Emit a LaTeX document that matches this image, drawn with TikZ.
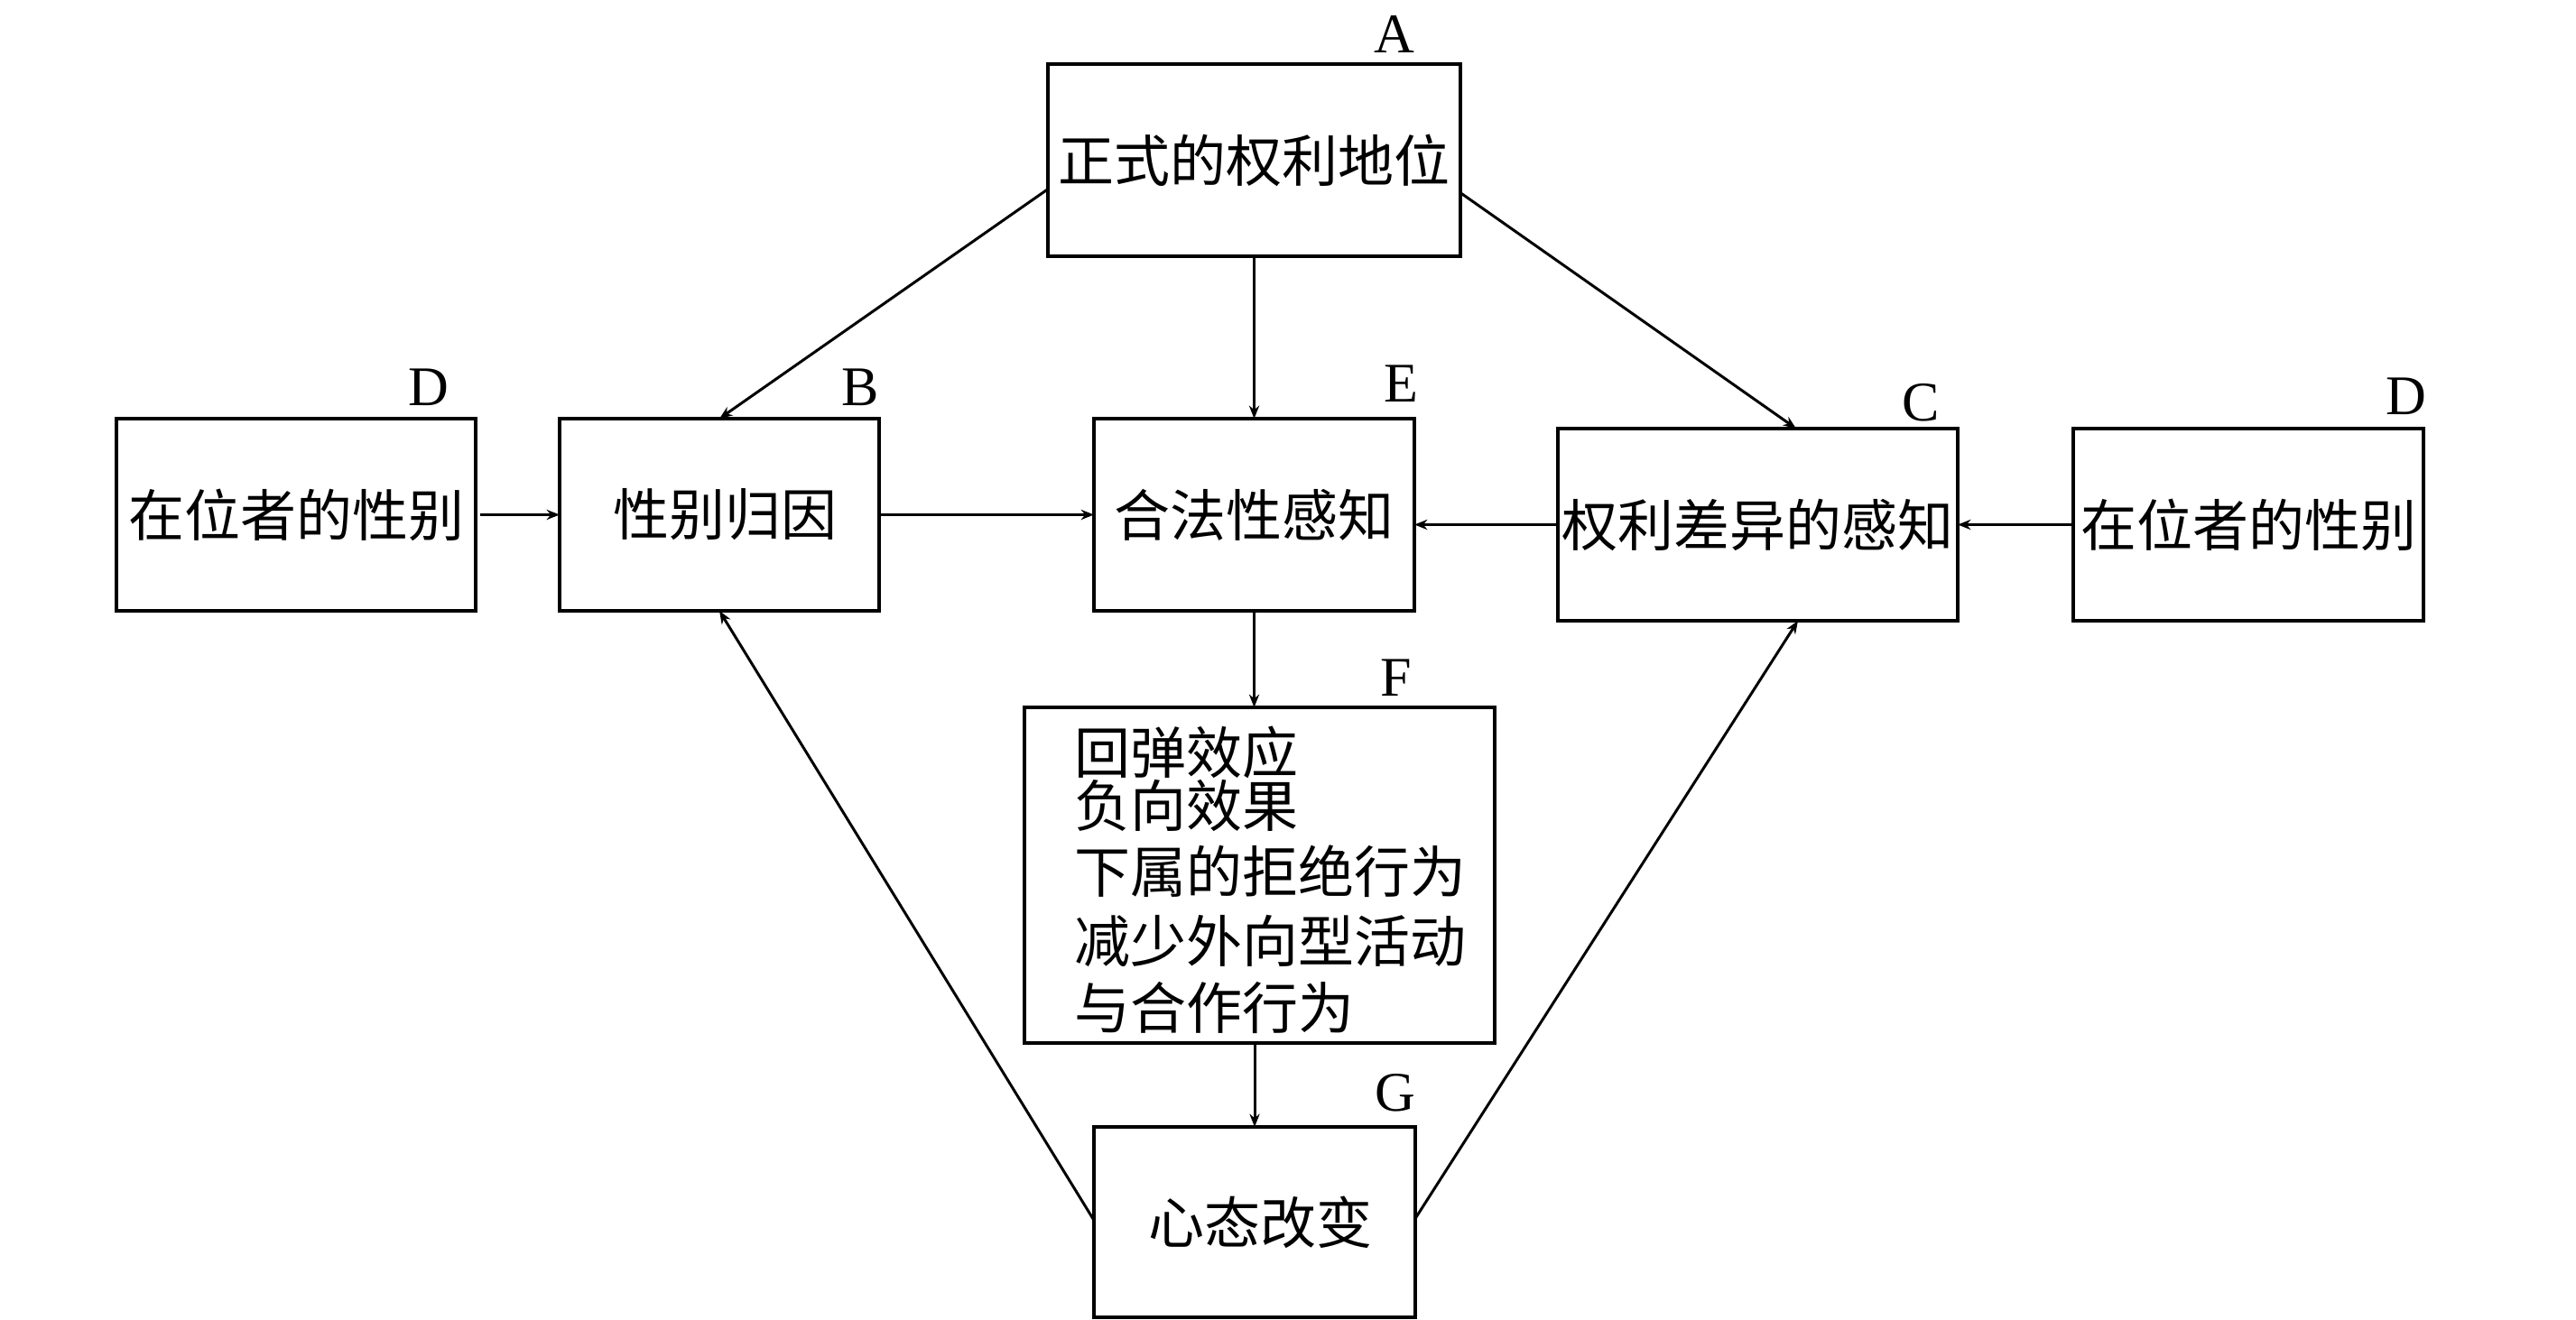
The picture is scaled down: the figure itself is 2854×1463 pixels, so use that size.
\documentclass[tikz,border=0pt]{standalone}
\usepackage{fontspec}
\setmainfont{Liberation Serif}
\newfontfamily\cjk{Noto Sans CJK SC}
\usetikzlibrary{arrows.meta,calc}
\tikzset{
  box/.style={draw,line width=0.8pt,rectangle,inner sep=0pt,outer sep=0pt,
    font=\cjk\fontsize{15.5pt}{18pt}\selectfont},
  lbl/.style={inner sep=0pt,font=\fontsize{15.5pt}{18pt}\selectfont},
  ftxt/.style={inner sep=0pt,anchor=west,font=\cjk\fontsize{15.5pt}{18pt}\selectfont},
  conn/.style={line width=0.75pt,-{Stealth[length=3.6pt,width=2.8pt]}}
}
\begin{document}
\begin{tikzpicture}[x=0.25pt,y=-0.25pt]
\useasboundingbox (0,0) rectangle (2854,1463);
% boxes
\node[box,minimum width=114.25pt,minimum height=53.25pt] (A) at (1389.5,177.5) {正式的权利地位};
\node[box,minimum width=99.5pt,minimum height=53.25pt] (DL) at (328,570.5) {在位者的性别};
\node[box,minimum width=88.5pt,minimum height=53.25pt] (B) at (797,570.5) {\hspace*{3.2pt}性别归因};
\node[box,minimum width=88.75pt,minimum height=53.25pt] (E) at (1389.5,570.5) {合法性感知};
\node[box,minimum width=110.75pt,minimum height=53.25pt] (C) at (1947.5,581.5) {权利差异的感知};
\node[box,minimum width=97pt,minimum height=53.25pt] (DR) at (2491,581.5) {在位者的性别};
\node[box,minimum width=130.25pt,minimum height=93pt] (F) at (1395.5,970) {};
\node[box,minimum width=89pt,minimum height=52.75pt] (G) at (1390,1354.5) {\hspace*{3.2pt}心态改变};
% F text lines
\node[ftxt] (f1) at (1190,834) {回弹效应};
\node[ftxt] (f2) at (1190,893) {负向效果};
\node[ftxt] (f3) at (1190,966) {下属的拒绝行为};
\node[ftxt] (f4) at (1190,1043) {减少外向型活动};
\node[ftxt] (f5) at (1190,1117) {与合作行为};
% letter labels
\node[lbl] (lA) at (1545,38) {A};
\node[lbl] (lE) at (1552,425) {E};
\node[lbl] (lDL) at (475,429) {D};
\node[lbl] (lB) at (953,429) {B};
\node[lbl] (lC) at (2128,446) {C};
\node[lbl] (lDR) at (2666,439) {D};
\node[lbl] (lF) at (1547,751) {F};
\node[lbl] (lG) at (1546,1211) {G};
% connectors
\draw[conn] (A.188.8) -- (B.north);
\draw[conn] (A.351.2) -- ($(C.north west)+(264,0)$);
\draw[conn] (A.south) -- (E.north);
\draw[conn] ($(DL.east)+(5,0)$) -- (B.west);
\draw[conn] (B.east) -- (E.west);
\draw[conn] (DR.west) -- (C.east);
\draw[conn] (C.west) -- (C.west -| E.east);
\draw[conn] (E.south) -- (E.south |- F.north);
\draw[conn] (F.south -| G.north) -- (G.north);
\draw[conn] ($(G.west)+(0,-2)$) -- (B.south);
\draw[conn] ($(G.east)+(0,-4)$) -- ($(C.south west)+(266,0)$);
\end{tikzpicture}
\end{document}
